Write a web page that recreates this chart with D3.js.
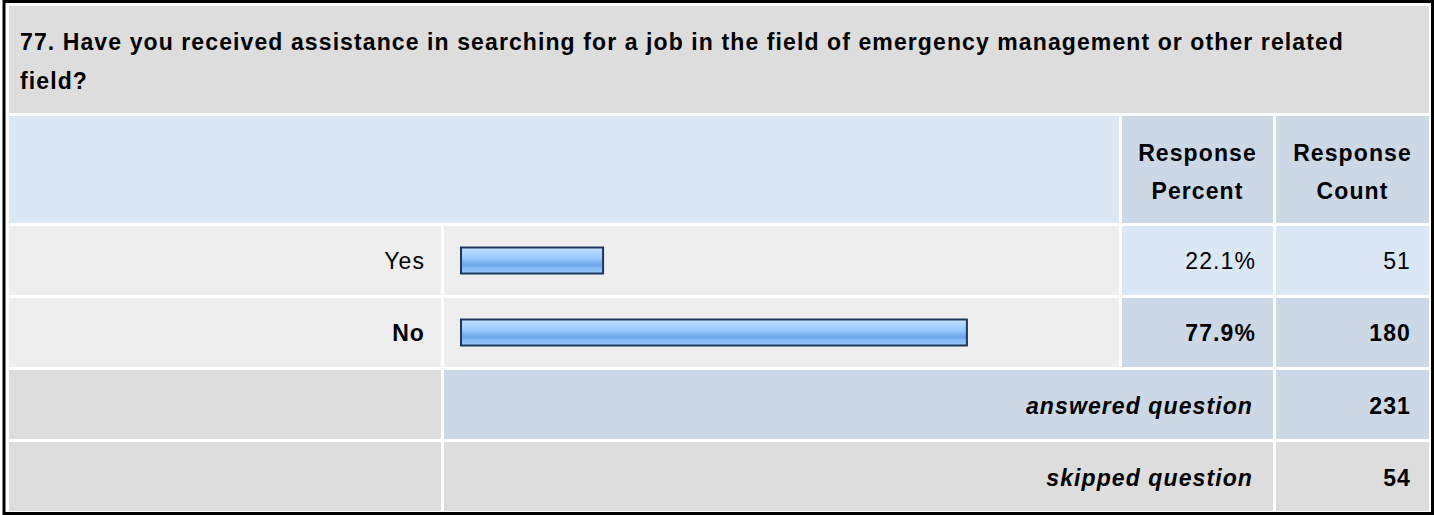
<!DOCTYPE html>
<html>
<head>
<meta charset="utf-8">
<script src="https://cdn.jsdelivr.net/npm/d3@7/dist/d3.min.js"></script>
<style>
  html, body { margin: 0; padding: 0; background: #ffffff; }
  svg { display: block; }
  text { font-family: "Liberation Sans", Arial, Helvetica, sans-serif; fill: #000000; }
</style>
</head>
<body>
<svg id="chart" width="1434" height="515"></svg>
<script>
// ---- data ----
const titleLines = [
  "77. Have you received assistance in searching for a job in the field of emergency management or other related",
  "field?"
];
const headerLabels = [["Response", "Percent"], ["Response", "Count"]];
const categories = ["Yes", "No"];
const percents = [22.1, 77.9];
const counts = [51, 180];
const summaryLabels = ["answered question", "skipped question"];
const summaryCounts = [231, 54];

// ---- layout ----
const W = 1434, H = 515;
const svg = d3.select("#chart");
const FS = 23, LS = 1.1;

const colX = [9, 444, 1122, 1276];
const colR = [441, 1119, 1273, 1429];
const rowTop = [6, 116, 226, 298, 370, 442];
const rowBot = [113, 223, 295, 367, 439, 511];

const C_GRAY = "#dddddd", C_LIGHT = "#eeeeee", C_BLUE = "#dce7f5", C_BLUE2 = "#ccd8e6";

const defs = svg.append("defs");
const grad = defs.append("linearGradient").attr("id", "barGrad")
  .attr("x1", 0).attr("y1", 0).attr("x2", 0).attr("y2", 1);
[[0, "#cfe6ff"], [0.12, "#b4d8fd"], [0.3, "#a2cffc"], [0.45, "#93c6fa"],
 [0.55, "#7fb4f1"], [0.68, "#6ea5ea"], [0.8, "#86bbf5"], [1, "#98c9fb"]]
  .forEach(([o, c]) => grad.append("stop").attr("offset", o).attr("stop-color", c));

function cell(x0, x1, y0, y1, fill) {
  svg.append("rect").attr("x", x0).attr("y", y0)
    .attr("width", x1 - x0).attr("height", y1 - y0).attr("fill", fill);
}
function txt(x, y, s, anchor, bold, italic) {
  return svg.append("text").attr("x", x).attr("y", y).text(s)
    .attr("text-anchor", anchor)
    .attr("font-size", FS)
    .attr("letter-spacing", LS)
    .attr("font-weight", bold ? "bold" : "normal")
    .attr("font-style", italic ? "italic" : "normal");
}

// outer border
svg.append("rect").attr("x", 4).attr("y", 1.5).attr("width", 1428.5).attr("height", 512)
  .attr("fill", "#ffffff").attr("stroke", "#000000").attr("stroke-width", 3);

// title row
cell(colX[0], colR[3], rowTop[0], rowBot[0], C_GRAY);
titleLines.forEach((l, i) => txt(20, 50 + i * 39, l, "start", true, false));

// header row
cell(colX[0], colR[1], rowTop[1], rowBot[1], C_BLUE);
cell(colX[2], colR[2], rowTop[1], rowBot[1], C_BLUE2);
cell(colX[3], colR[3], rowTop[1], rowBot[1], C_BLUE2);
headerLabels.forEach((lines, j) => {
  const cx = (colX[2 + j] + colR[2 + j]) / 2;
  lines.forEach((l, i) => txt(cx, 161 + i * 38, l, "middle", true, false));
});

// response rows
const maxP = d3.max(percents);
const x = d3.scaleLinear().domain([0, 100]).range([0, 652]);
const barX0 = 460, barH = 28;
categories.forEach((c, i) => {
  const r = 2 + i;
  const y0 = rowTop[r], y1 = rowBot[r], cy = (y0 + y1) / 2;
  const bold = percents[i] === maxP;
  const numFill = bold ? C_BLUE2 : C_BLUE;
  cell(colX[0], colR[0], y0, y1, C_LIGHT);
  cell(colX[1], colR[1], y0, y1, C_LIGHT);
  cell(colX[2], colR[2], y0, y1, numFill);
  cell(colX[3], colR[3], y0, y1, numFill);
  svg.append("rect").attr("x", barX0 + 1).attr("y", cy - barH / 2 + 1)
    .attr("width", x(percents[i]) - 2).attr("height", barH - 2)
    .attr("fill", "url(#barGrad)").attr("stroke", "#1d3659").attr("stroke-width", 2);
  const by = cy + 8;
  txt(colR[0] - 16, by, c, "end", bold, false);
  txt(colR[2] - 17, by, percents[i].toFixed(1) + "%", "end", bold, false);
  txt(colR[3] - 18, by, counts[i], "end", bold, false);
});

// summary rows
summaryLabels.forEach((s, i) => {
  const r = 4 + i;
  const y0 = rowTop[r], y1 = rowBot[r], cy = (y0 + y1) / 2;
  const f = i === 0 ? C_BLUE2 : C_GRAY;
  cell(colX[0], colR[0], y0, y1, C_GRAY);
  cell(colX[1], colR[2], y0, y1, f);
  cell(colX[3], colR[3], y0, y1, f);
  txt(colR[2] - 20, cy + 9, s, "end", true, true);
  txt(colR[3] - 18, cy + 9, summaryCounts[i], "end", true, false);
});
</script>
</body>
</html>
